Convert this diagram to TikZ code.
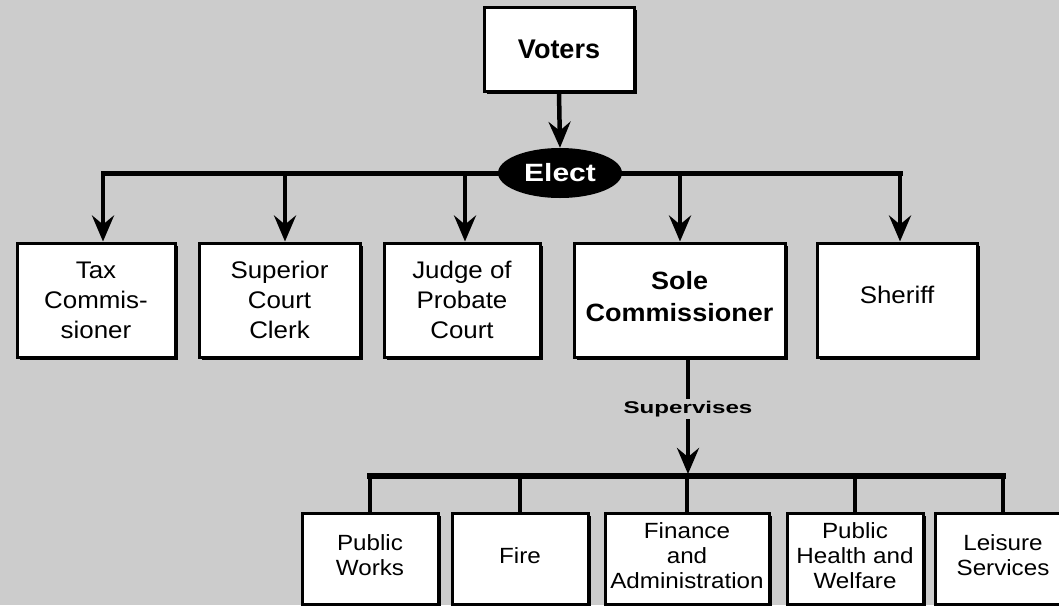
\documentclass[tikz,border=0pt]{standalone}
\usepackage{fontspec}
\setmainfont{Liberation Sans}
\newfontfamily\topf{Liberation Sans}[FakeStretch=1.08]
\newfontfamily\botf{Liberation Sans}[FakeStretch=1.1]
\usetikzlibrary{shapes.geometric,shadows,arrows.meta}
\definecolor{bg}{HTML}{CCCCCC}
\begin{document}
\begin{tikzpicture}[x=1pt,y=-1pt,
  box/.style={draw=black,fill=white,line width=3pt,inner sep=0pt,align=center,
    drop shadow={shadow xshift=3pt,shadow yshift=-3pt,opacity=1,fill=black}},
  toptxt/.style={font=\topf\fontsize{24}{30}\selectfont},
  bottxt/.style={font=\botf\fontsize{22}{25}\selectfont,text depth=6pt},
  arr/.style={line width=4.5pt,-{Stealth[length=26pt,width=22pt,inset=9pt]}},
  bus/.style={line width=5pt,line cap=rect},
  stem/.style={line width=4.5pt}]
\useasboundingbox (0,0) rectangle (1059,605);
\clip (0,0) rectangle (1059,605);
\fill[bg] (0,0) rectangle (1059,605);

% top
\node[box,minimum width=150pt,minimum height=84pt,font=\bfseries\fontsize{27}{30}\selectfont] (voters) at (559,49) {Voters};
\node[ellipse,fill=black,minimum width=124pt,minimum height=50pt,inner sep=0pt,text=white,font=\bfseries\fontsize{25}{28}\selectfont] (elect) at (560,173) {\scalebox{1.2}[1]{Elect}};

% row 1
\node[box,toptxt,minimum width=158pt,minimum height=114pt] (tax) at (96,300) {Tax\\Commis-\\sioner};
\node[box,toptxt,minimum width=161pt,minimum height=114pt] (clerk) at (279.5,300) {Superior\\Court\\Clerk};
\node[box,toptxt,minimum width=156pt,minimum height=114pt] (judge) at (462,300) {Judge of\\Probate\\Court};
\node[box,minimum width=211pt,minimum height=114pt,font=\topf\bfseries\fontsize{25}{32}\selectfont,text depth=8pt] (sole) at (679.5,300) {Sole\\Commissioner};
\node[box,toptxt,minimum width=160pt,minimum height=114pt,text depth=10pt] (sheriff) at (897,300) {Sheriff};

% row 2
\node[box,bottxt,minimum width=136pt,minimum height=91pt] (pw) at (370,558.5) {Public\\Works};
\node[box,bottxt,minimum width=136pt,minimum height=91pt] (fire) at (520,558.5) {Fire};
\node[box,bottxt,minimum width=164pt,minimum height=91pt] (fin) at (687,558.5) {Finance\\and\\Administration};
\node[box,bottxt,minimum width=136pt,minimum height=91pt] (phw) at (855,558.5) {Public\\Health and\\Welfare};
\node[box,bottxt,minimum width=136pt,minimum height=91pt] (ls) at (1003,558.5) {Leisure\\Services};

% Voters -> Elect
\draw[arr] (voters.south) -- (elect.north);

% Elect bus
\coordinate (b1) at (103,173);
\coordinate (b2) at (285,173);
\coordinate (b3) at (465,173);
\coordinate (b4) at (680,173);
\coordinate (b5) at (900,173);
\draw[bus] (b1) -- (elect.west);
\draw[bus] (elect.east) -- (b5);
\draw[arr] (b1) -- (b1 |- tax.north);
\draw[arr] (b2) -- (b2 |- clerk.north);
\draw[arr] (b3) -- (b3 |- judge.north);
\draw[arr] (b4) -- (b4 |- sole.north);
\draw[arr] (b5) -- (b5 |- sheriff.north);

% Supervises
\coordinate (s0) at (688,476);
\coordinate (s1) at (688,474);
\draw[arr] (s0 |- sole.south) -- node[pos=0.44,fill=bg,inner sep=2pt,font=\bfseries\fontsize{17}{18}\selectfont] (sup) {\scalebox{1.42}[1]{Supervises}} (s1);
\draw[bus,line width=6pt] (pw.north |- s0) -- (ls.north |- s0);
\draw[stem] (pw.north |- s0) -- (pw.north);
\draw[stem] (fire.north |- s0) -- (fire.north);
\draw[stem] (fin.north |- s0) -- (fin.north);
\draw[stem] (phw.north |- s0) -- (phw.north);
\draw[stem] (ls.north |- s0) -- (ls.north);
\end{tikzpicture}
\end{document}
